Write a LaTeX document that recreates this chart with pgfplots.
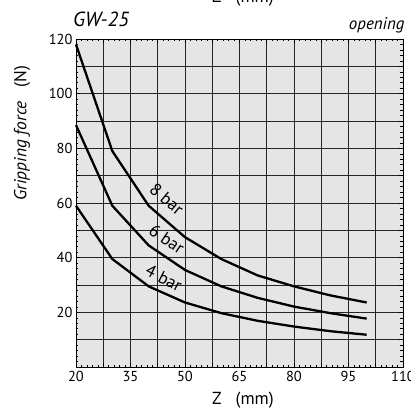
\documentclass[border=0pt]{standalone}
\usepackage{fontspec}
\setmainfont{PT Sans}
\usepackage{pgfplots}
\pgfplotsset{compat=1.18}
\begin{document}
\begin{tikzpicture}[x=1bp,y=1bp]
\begin{axis}[
 at={(0,0)}, anchor=south west, scale only axis, width=327bp, height=328bp,
 xmin=20, xmax=110, ymin=0, ymax=120,
 xtick={20,27.5,35,42.5,50,57.5,65,72.5,80,87.5,95,102.5,110},
 xticklabels={20,,35,,50,,65,,80,,95,,110},
 ytick={0,10,...,120}, yticklabels={,,20,,40,,60,,80,,100,,120},
 minor x tick num=4, minor y tick num=4,
 grid=major, grid style={black!85, line width=0.8bp},
 axis background/.style={fill=black!10},
 axis line style={black, line width=0.8bp},
 tick style={black, line width=0.5bp},
 major tick length=4bp, minor tick length=2.5bp,
 tick label style={font=\fontsize{14.5}{16}\selectfont},
 xticklabel style={yshift=-1bp},
 /pgf/number format/assume math mode=true,
 clip=false,
]
\addplot[black, line width=2.3bp] coordinates {(20,118)(30,79)(40,59)(50,47.5)(60,39.5)(70,33.5)(80,29.5)(90,26.2)(100,23.6)};
\addplot[black, line width=2.3bp] coordinates {(20,88.5)(30,59)(40,44.5)(50,35.5)(60,29.5)(70,25.3)(80,22.1)(90,19.7)(100,17.7)};
\addplot[black, line width=2.3bp] coordinates {(20,59)(30,39.5)(40,29.5)(50,23.6)(60,19.7)(70,16.9)(80,14.8)(90,13.1)(100,11.8)};
\node[rotate=-40, font=\fontsize{17.5}{18}\selectfont] at (axis cs:45,61.5) {8 bar};
\node[rotate=-34, font=\fontsize{17.5}{18}\selectfont] at (axis cs:45,46.8) {6 bar};
\node[rotate=-27, font=\fontsize{17.5}{18}\selectfont] at (axis cs:44.2,32.6) {4 bar};
\end{axis}
\node[font=\itshape\fontsize{20.5}{22}\selectfont] at (25,348) {GW-25};
\node[anchor=base east, font=\itshape\fontsize{17}{18}\selectfont] at (332,338) {opening};
\node[font=\fontsize{17.5}{18}\selectfont] at (167,369) {Z\ \ \ (mm)};
\node[font=\fontsize{17.5}{18}\selectfont] at (167,-33) {Z\ \ \ (mm)};
\node[rotate=90, font=\fontsize{17.5}{18}\selectfont] at (-54,234) {{\itshape Gripping force}\ \ \ (N)};
\pgfresetboundingbox
\useasboundingbox (-76,-41) rectangle (335,367);
\end{tikzpicture}
\end{document}
